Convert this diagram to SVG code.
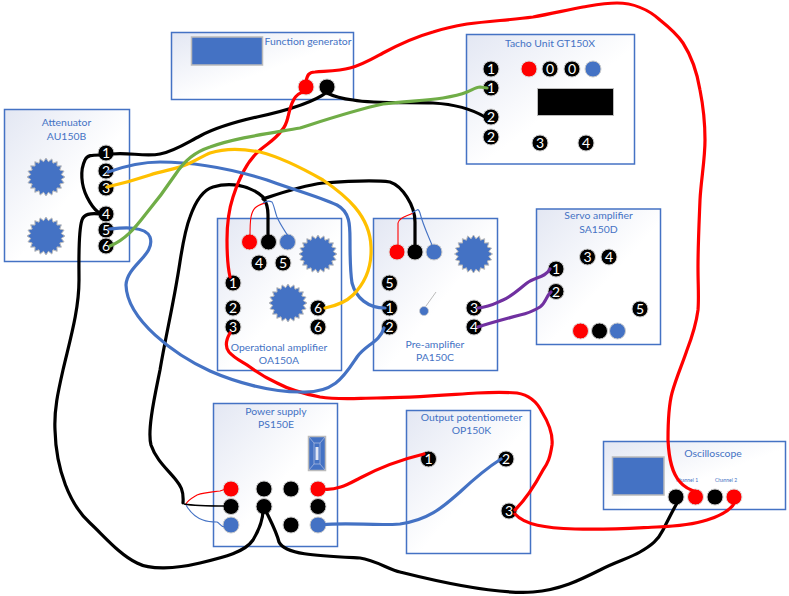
<svg xmlns="http://www.w3.org/2000/svg" width="789" height="596" viewBox="0 0 789 596">
<style>
.box{stroke:#4472c4;stroke-width:1.5;fill:url(#g)}
.t{font-family:Lato,"Liberation Sans",sans-serif;font-size:10.4px;fill:#4472c4;text-anchor:middle}
.n circle,circle.k{fill:#000;stroke:#ccc;stroke-width:1}
.n text{font-family:Lato,"Liberation Sans",sans-serif;font-size:14px;fill:#fff;text-anchor:middle}
circle.r{fill:#f00;stroke:#ddd;stroke-width:1}
circle.b{fill:#4472c4;stroke:#ccc;stroke-width:1}
.scr{fill:#4472c4;stroke:#bbb;stroke-width:1.5}
.w{fill:none;stroke-width:3.2;stroke-linecap:round;stroke-linejoin:round}
.f{fill:none;stroke-width:1.1}
</style>
<defs>
<linearGradient id="g" x1="0" y1="0" x2="1" y2="1"><stop offset="0" stop-color="#e3e7f3"/><stop offset=".55" stop-color="#fff"/></linearGradient>
<polygon id="star" fill="#4472c4" stroke="#bbb" stroke-width="1" points="19,0 15.3,2.42 18.07,5.87 13.81,7.04 15.37,11.17 10.96,10.96 11.17,15.37 7.04,13.81 5.87,18.07 2.42,15.3 0,19 -2.42,15.3 -5.87,18.07 -7.04,13.81 -11.17,15.37 -10.96,10.96 -15.37,11.17 -13.81,7.04 -18.07,5.87 -15.3,2.42 -19,0 -15.3,-2.42 -18.07,-5.87 -13.81,-7.04 -15.37,-11.17 -10.96,-10.96 -11.17,-15.37 -7.04,-13.81 -5.87,-18.07 -2.42,-15.3 0,-19 2.42,-15.3 5.87,-18.07 7.04,-13.81 11.17,-15.37 10.96,-10.96 15.37,-11.17 13.81,-7.04 18.07,-5.87 15.3,-2.42"/>
</defs>
<rect width="789" height="596" fill="#fff"/>

<g id="function-generator">
<rect class="box" x="171.5" y="32.5" width="182" height="67"/>
<rect class="scr" x="191.5" y="37" width="71" height="28"/>
<text class="t" x="308" y="44.5">Function generator</text>
<circle class="r" cx="306" cy="87" r="8"/><circle class="k" cx="327" cy="87" r="8"/>
</g>

<g id="tacho-unit">
<rect class="box" x="466.5" y="34.5" width="168" height="129.5"/>
<text class="t" x="550" y="46.5">Tacho Unit GT150X</text>
<rect x="537.5" y="88.5" width="76" height="27" fill="#000" stroke="#bbb"/>
<circle class="r" cx="529" cy="69" r="8"/><circle class="b" cx="593" cy="69" r="8"/>
<g class="n">
<circle cx="491" cy="69" r="8"/><text x="491" y="74">1</text>
<circle cx="491" cy="88" r="8"/><text x="491" y="93">1</text>
<circle cx="491" cy="117" r="8"/><text x="491" y="122">2</text>
<circle cx="491" cy="137" r="8"/><text x="491" y="142">2</text>
<circle cx="540" cy="143" r="8"/><text x="540" y="148">3</text>
<circle cx="586" cy="143" r="8"/><text x="586" y="148">4</text>
<circle cx="550" cy="69" r="8"/><text x="550" y="74">0</text>
<circle cx="572" cy="69" r="8"/><text x="572" y="74">0</text>
</g>
</g>

<g id="attenuator">
<rect class="box" x="4.5" y="109.5" width="125" height="152"/>
<text class="t" x="66.5" y="126">Attenuator</text>
<text class="t" x="66.5" y="140">AU150B</text>
<use href="#star" x="46" y="177"/><use href="#star" x="46" y="236"/>
<g class="n">
<circle cx="106" cy="153" r="8"/><text x="106" y="158">1</text>
<circle cx="106" cy="171" r="8"/><text x="106" y="176">2</text>
<circle cx="106" cy="188" r="8"/><text x="106" y="193">3</text>
<circle cx="106" cy="214" r="8"/><text x="106" y="219">4</text>
<circle cx="106" cy="230" r="8"/><text x="106" y="235">5</text>
<circle cx="106" cy="246" r="8"/><text x="106" y="251">6</text>
</g>
</g>

<g id="operational-amplifier">
<rect class="box" x="217.5" y="218.5" width="124" height="152"/>
<text class="t" x="279" y="351">Operational amplifier</text>
<text class="t" x="279" y="364">OA150A</text>
<use href="#star" x="318" y="254"/><use href="#star" x="288" y="303"/>
<circle class="r" cx="249.5" cy="242" r="8"/><circle class="k" cx="268.5" cy="242" r="8"/><circle class="b" cx="287.5" cy="242" r="8"/>
<g class="n">
<circle cx="259" cy="263" r="8"/><text x="259" y="268">4</text>
<circle cx="283" cy="263" r="8"/><text x="283" y="268">5</text>
<circle cx="233" cy="283" r="8"/><text x="233" y="288">1</text>
<circle cx="233" cy="308" r="8"/><text x="233" y="313">2</text>
<circle cx="233" cy="327" r="8"/><text x="233" y="332">3</text>
<circle cx="318" cy="308" r="8"/><text x="318" y="313">6</text>
<circle cx="318" cy="327" r="8"/><text x="318" y="332">6</text>
</g>
</g>

<g id="pre-amplifier">
<rect class="box" x="373.5" y="218.5" width="124" height="152"/>
<text class="t" x="435" y="348">Pre-amplifier</text>
<text class="t" x="435" y="361">PA150C</text>
<use href="#star" x="473.5" y="254"/>
<circle class="r" cx="397" cy="252" r="8"/><circle class="k" cx="415" cy="252" r="8"/><circle class="b" cx="434" cy="252" r="8"/>
<line x1="426" y1="306" x2="436" y2="292" stroke="#bbb"/>
<circle cx="424" cy="311" r="4.5" fill="#4472c4" stroke="#ccc" stroke-width=".7"/>
<g class="n">
<circle cx="389.5" cy="283" r="8"/><text x="389.5" y="288">5</text>
<circle cx="389.5" cy="308" r="8"/><text x="389.5" y="313">1</text>
<circle cx="389.5" cy="327" r="8"/><text x="389.5" y="332">2</text>
<circle cx="474" cy="308" r="8"/><text x="474" y="313">3</text>
<circle cx="474" cy="327" r="8"/><text x="474" y="332">4</text>
</g>
</g>

<g id="servo-amplifier">
<rect class="box" x="536.5" y="209" width="124" height="135.5"/>
<text class="t" x="598.5" y="219">Servo amplifier</text>
<text class="t" x="598.5" y="232.5">SA150D</text>
<circle class="r" cx="580.5" cy="331" r="8"/><circle class="k" cx="599.5" cy="331" r="8"/><circle class="b" cx="617.5" cy="331" r="8"/>
<g class="n">
<circle cx="556" cy="269" r="8"/><text x="556" y="274">1</text>
<circle cx="556" cy="291.5" r="8"/><text x="556" y="296.5">2</text>
<circle cx="587.5" cy="257" r="8"/><text x="587.5" y="262">3</text>
<circle cx="609" cy="257" r="8"/><text x="609" y="262">4</text>
<circle cx="640" cy="309" r="8"/><text x="640" y="314">5</text>
</g>
</g>

<g id="power-supply">
<rect class="box" x="213.5" y="403.5" width="124" height="143"/>
<text class="t" x="276" y="414.5">Power supply</text>
<text class="t" x="276" y="427.5">PS150E</text>
<g id="switch">
<rect x="308.5" y="436.5" width="17" height="34" fill="#4472c4" stroke="#bbb" stroke-width="1.5"/>
<path d="M309 437l5 6h6l5-6M309 470l5-6h6l5 6M314 443v21M320 443v21" fill="none" stroke="#c8cfe8" stroke-width=".6"/>
<rect x="315.5" y="447" width="3" height="13" fill="#dfe6f5"/>
</g>
<circle class="r" cx="231" cy="489" r="8"/><circle class="k" cx="264" cy="489" r="8"/><circle class="k" cx="291" cy="489" r="8"/><circle class="r" cx="318" cy="489" r="8"/>
<circle class="k" cx="231" cy="506.5" r="8"/><circle class="k" cx="264" cy="506.5" r="8"/><circle class="k" cx="318" cy="506.5" r="8"/>
<circle class="b" cx="231" cy="525" r="8"/><circle class="k" cx="291" cy="525" r="8"/><circle class="b" cx="318" cy="525" r="8"/>
</g>

<g id="output-potentiometer">
<rect class="box" x="406.5" y="410.5" width="124" height="143"/>
<text class="t" x="471.5" y="420.5">Output potentiometer</text>
<text class="t" x="471.5" y="433.5">OP150K</text>
<g class="n">
<circle cx="428.5" cy="459" r="8"/><text x="428.5" y="464">1</text>
<circle cx="506" cy="459" r="8"/><text x="506" y="464">2</text>
<circle cx="509" cy="511" r="8"/><text x="509" y="516">3</text>
</g>
</g>

<g id="oscilloscope">
<rect class="box" x="603.5" y="441.5" width="182" height="68"/>
<rect class="scr" x="612.5" y="457" width="51.5" height="38"/>
<text class="t" x="713" y="456.5">Oscilloscope</text>
<text class="t" x="687" y="482" style="font-size:5px">Channel 1</text>
<text class="t" x="726" y="482" style="font-size:5px">Channel 2</text>
<circle class="k" cx="676" cy="497" r="8"/><circle class="r" cx="695.5" cy="497" r="8"/><circle class="k" cx="715" cy="497" r="8"/><circle class="r" cx="734" cy="497" r="8"/>
</g>

<g id="connectors">
<g stroke="#000">
<path class="w" d="M112 154C128 152 145 157 160 154C175 151 188 142 200 136C215 128 235 122 257 117C280 112 312 104 327 92"/>
<path class="w" d="M327 93C335 97 345 99 353 100C375 104 410 102 433 103C450 104 470 108 485 117"/>
<path class="w" d="M100 155C92 155 87 155 85 160C80 170 81 185 87 197C91 205 94 209 98 212"/>
<path class="w" d="M100 214C90 213 84 214 82 220C78 232 79 260 79 280C79 310 70 340 63 370C58 392 54 410 55 430C56 470 70 505 90 523C105 537 120 555 137 563C150 570 175 569 200 563C225 557 245 552 253 540C259 530 263 520 263 510"/>
<path class="w" d="M183 503C184 490 180 485 176 480C168 470 156 460 151 445C147 430 155 395 160 370C165 340 172 310 177 280C181 258 183 235 190 217C196 200 203 190 213 187C230 182 250 185 263 197C267 203 268 208 268 215V238"/>
<path class="w" d="M263 199C275 195 300 186 323 183C350 181 375 180 390 182C402 186 415 205 415 222V247"/>
<path class="w" d="M264 507C270 520 276 530 279 542C285 555 320 556 360 558C375 560 390 570 400 572C420 577 490 595 533 592C560 590 580 580 600 570C615 562 630 558 640 552C652 545 658 540 663 530C668 520 672 512 677 503"/>
</g>
<g stroke="#f00">
<path class="w" d="M306 82C307 75 309 72 315 72C328 71 340 71 350 68C362 65 372 59 383 53C398 45 415 37 433 32C445 28 455 26 467 24C490 21 510 20 533 17C550 14 567 10 583 7C595 5 605 3 617 3C632 3 648 9 660 20C670 28 677 34 683 43C692 57 697 72 700 90C703 105 705 120 705 140C705 160 701 180 700 200C699 225 698 245 698 267C698 285 699 298 698 310C696 325 692 337 687 350C682 365 676 378 672 393C668 408 668 425 668 440C669 460 672 473 680 482C685 488 690 490 697 492"/>
<path class="w" d="M304 92C295 93 291 103 288 117C286 125 284 128 282 130C275 140 268 143 260 150C248 160 239 178 233 197C228 212 227 225 227 240C227 255 228 268 230 277"/>
<path class="w" d="M230 333C226 340 225 347 229 352C235 359 243 362 250 367C258 373 268 379 277 383C290 390 305 394 320 397C340 400 358 398 377 398C410 398 445 395 477 393C495 392 505 392 517 393C530 395 537 402 542 412C550 425 553 435 552 445C550 458 548 463 543 470C535 485 525 500 515 510"/>
<path class="w" d="M515 514C525 525 545 528 575 529C610 530 635 528 657 527C680 526 695 524 707 520C720 516 731 510 735 502"/>
<path class="w" d="M322 489C338 491 350 483 360 478C375 470 395 461 424 454"/>
</g>
<g stroke="#4472c4">
<path class="w" d="M108 172C125 166 145 162 160 162C195 162 235 170 267 180C285 187 318 196 337 205C350 212 350 225 350 240C350 255 350 270 352 283C356 298 368 308 385 308"/>
<path class="w" d="M109 229C120 228 145 225 150 237C156 255 127 265 126 285C127 320 175 355 210 371C235 382 270 392 300 392C335 394 345 375 357 357C365 345 380 342 384 328"/>
<path class="w" d="M322 525C345 522 375 526 400 524C430 520 445 505 460 492C475 478 490 466 501 459"/>
</g>
<path class="w" stroke="#ffc000" d="M107 187C125 183 135 180 150 175C165 170 175 170 190 163C200 158 205 155 210 153C225 148 245 149 260 152C280 157 302 168 323 180C345 195 370 215 371 247C372 268 365 283 353 295C345 303 335 306 325 308"/>
<path class="w" stroke="#70ad47" d="M110 246C125 240 135 228 145 215C155 203 165 190 175 175C185 160 195 152 210 147C235 138 265 134 300 128C325 120 355 110 383 104C405 101 425 101 443 98C455 96 462 94 467 92C472 90 476 87 480 87L487 88"/>
<path class="w" stroke="#7030a0" d="M478 308C490 307 496 303 503 300C512 296 518 290 527 283C535 277 545 278 550 269"/>
<path class="w" stroke="#7030a0" d="M478 327C490 323 505 319 520 315C530 313 535 310 540 307C546 303 546 296 551 292"/>
<g class="f">
<path stroke="#f00" d="M186 504C188 500 192 498 197 495C205 492 212 492 220 491L226 489"/>
<path stroke="#000" style="stroke-width:1.4" d="M184 504C195 506 210 506 226 506"/>
<path stroke="#4472c4" d="M186 505C190 512 197 518 203 520C208 522 213 522 217 522C220 523 220 527 225 527"/>
<path stroke="#f00" d="M250 238C250 230 250 222 251 217C252 212 253 210 255 208C258 205 262 204 265 203"/>
<path stroke="#4472c4" d="M288 236C283 228 280 224 277 217C275 212 274 205 272 202C270 201 266 201 263 203"/>
<path stroke="#f00" d="M398 247V223C399 218 405 217 413 213"/>
<path stroke="#4472c4" d="M432 245C428 235 423 225 420 213C419 210 418 209 417 210C415 211 413 212 412 213"/>
</g>
</g>
</svg>
